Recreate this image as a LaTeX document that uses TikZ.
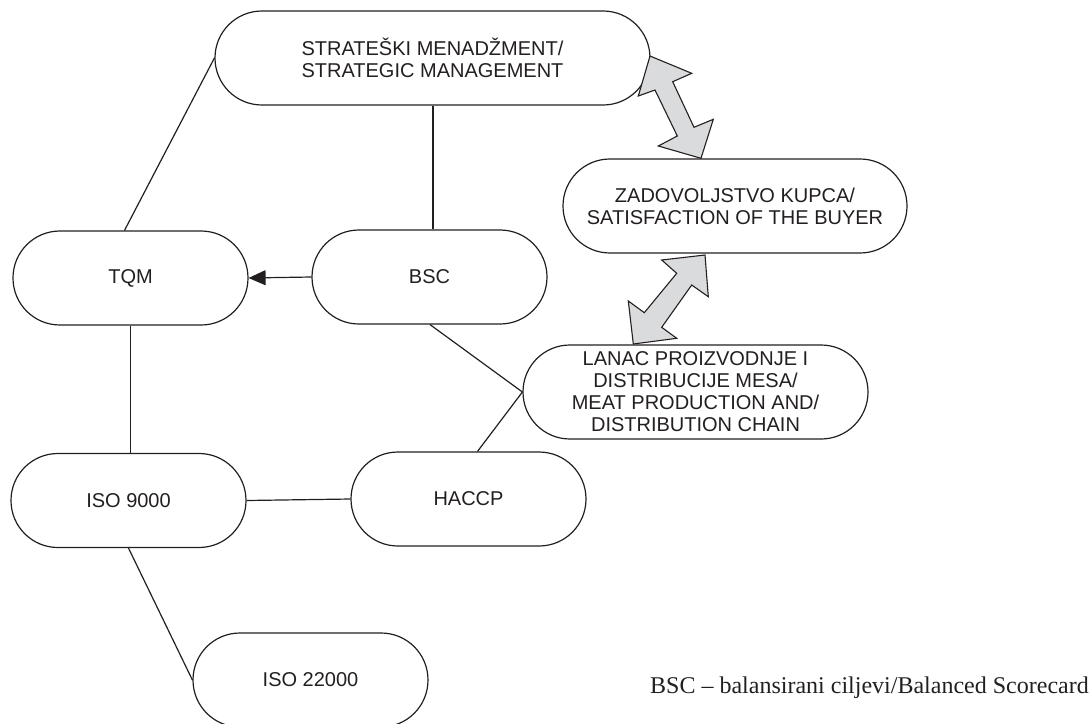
\documentclass[tikz,border=0pt]{standalone}
\usepackage{fontspec}
\setmainfont{Liberation Serif}
\setsansfont{Liberation Sans}
\usetikzlibrary{arrows.meta}
\definecolor{arrowgray}{RGB}{218,219,221}
\definecolor{ink}{RGB}{35,31,32}
\tikzset{
  pill/.style={draw=ink, line width=1.2pt, rounded corners=46.9pt, minimum height=94pt,
    inner sep=0pt, align=center, font=\sffamily\fontsize{20}{22}\selectfont, text=ink},
  conn/.style={draw=ink, line width=1.2pt},
  blockarrow/.style={draw=ink, line width=1.1pt, fill=arrowgray, line join=miter},
}
\begin{document}
\begin{tikzpicture}[x=1pt, y=-1pt]
\useasboundingbox (0,0) rectangle (1089,723);
\node[pill, minimum width=435pt] (strat) at (432.5,58) {STRATEŠKI MENADŽMENT/\\STRATEGIC MANAGEMENT};
\node[pill, minimum width=344pt] (zad) at (735,206) {ZADOVOLJSTVO KUPCA/\\SATISFACTION OF THE BUYER};
\node[pill, minimum width=235pt] (tqm) at (130.5,278) {TQM};
\node[pill, minimum width=235pt] (bsc) at (429.5,277) {BSC};
\node[pill, minimum width=345pt] (lanac) at (695.5,392) {LANAC PROIZVODNJE I\\DISTRIBUCIJE MESA/\\MEAT PRODUCTION AND/\\DISTRIBUTION CHAIN};
\node[pill, minimum width=235pt] (iso9) at (128.5,500.5) {ISO 9000};
\node[pill, minimum width=235pt] (haccp) at (468.5,499) {HACCP};
\node[pill, minimum width=235pt] (iso22) at (310.5,680) {ISO 22000};
\node[anchor=base west, font=\fontsize{24}{28}\selectfont, text=ink, inner sep=0pt] (cap) at (650,693) {BSC – balansirani ciljevi/Balanced Scorecard};

% connectors
\draw[conn] (strat.west) -- ([xshift=-6pt]tqm.north);
\draw[conn] ([xshift=0.5pt]strat.south) -- ([xshift=0.5pt]strat.south |- bsc.north);
\draw[conn, -{Triangle[length=17pt, width=15pt]}] (bsc.west) -- (tqm.east);
\draw[conn] ([xshift=0.5pt]bsc.south) -- (lanac.west);
\draw[conn] ([xshift=9pt]haccp.north) -- (lanac.west);
\draw[conn] (tqm.south) -- (tqm.south |- iso9.north);
\draw[conn] (iso9.east) -- (haccp.west);
\draw[conn] (iso9.south) -- (iso22.west);

% block double arrows
\draw[blockarrow] (650,56) -- (691.7,73.3) -- (672.7,81.7) -- (694,127.3) -- (713.3,119.3)
  -- (701,158.3) -- (658.3,146) -- (677.3,136) -- (655,90) -- (638.3,96) -- cycle;
\draw[blockarrow] (705,255) -- (708.3,296.7) -- (691.7,285) -- (661.7,327.3) -- (676.7,338.3)
  -- (633.3,344) -- (628.3,301) -- (644.3,312.7) -- (676.7,273.3) -- (661.7,260) -- cycle;
\end{tikzpicture}
\end{document}
